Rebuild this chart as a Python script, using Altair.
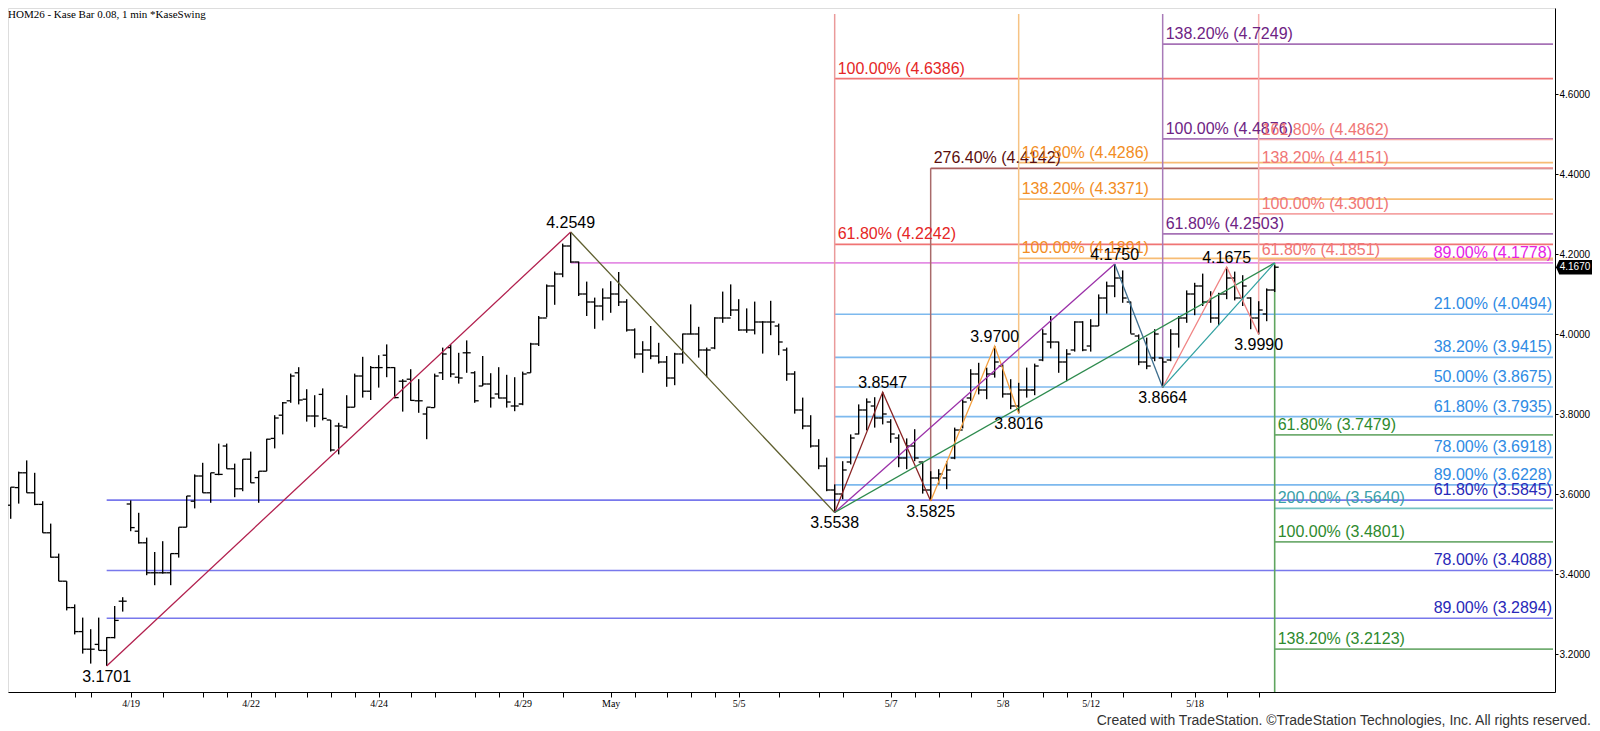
import altair as alt
import pandas as pd

# ---------------- bar data (one entry per Kase bar) ----------------
bar_high = [
    3.570, 3.617, 3.656, 3.684, 3.653, 3.582, 3.526, 3.451, 3.382, 3.324,
    3.291, 3.262, 3.291, 3.242, 3.320, 3.342, 3.584, 3.553, 3.491, 3.455,
    3.482, 3.451, 3.517, 3.595, 3.649, 3.678, 3.653, 3.726, 3.726, 3.676,
    3.687, 3.706, 3.657, 3.738, 3.797, 3.830, 3.901, 3.917, 3.862, 3.847,
    3.864, 3.785, 3.778, 3.847, 3.901, 3.943, 3.920, 3.947, 3.974, 3.917,
    3.887, 3.912, 3.887, 3.816, 3.901, 3.966, 3.974, 3.953, 3.984, 3.907,
    3.945, 3.902, 3.917, 3.898, 3.892, 3.906, 3.978, 4.045, 4.124, 4.156,
    4.226, 4.2549, 4.181, 4.131, 4.091, 4.114, 4.132, 4.155, 4.087, 4.014,
    3.982, 4.020, 3.978, 3.945, 3.953, 4.001, 4.074, 4.018, 3.966, 4.042,
    4.106, 4.124, 4.087, 4.064, 4.081, 4.032, 4.083, 4.026, 3.966, 3.907,
    3.841, 3.797, 3.737, 3.691, 3.624, 3.682, 3.749, 3.824, 3.839, 3.842,
    3.8547, 3.787, 3.749, 3.739, 3.762, 3.681, 3.657, 3.662, 3.682, 3.766,
    3.837, 3.912, 3.928, 3.916, 3.970, 3.924, 3.887, 3.878, 3.916, 3.926,
    4.012, 4.045, 3.981, 3.962, 4.032, 4.032, 4.037, 4.099, 4.131, 4.1750,
    4.159, 4.081, 3.999, 3.991, 4.012, 3.941, 4.012, 4.045, 4.109, 4.128,
    4.151, 4.107, 4.103, 4.1675, 4.156, 4.147, 4.092, 4.082, 4.114, 4.172,
]
bar_low = [
    3.489, 3.538, 3.576, 3.603, 3.572, 3.503, 3.441, 3.382, 3.309, 3.249,
    3.201, 3.176, 3.209, 3.1701, 3.239, 3.306, 3.507, 3.476, 3.397, 3.372,
    3.401, 3.372, 3.441, 3.517, 3.564, 3.603, 3.578, 3.647, 3.663, 3.592,
    3.607, 3.628, 3.578, 3.657, 3.714, 3.749, 3.828, 3.824, 3.781, 3.767,
    3.784, 3.706, 3.699, 3.764, 3.817, 3.841, 3.835, 3.866, 3.892, 3.839,
    3.806, 3.833, 3.803, 3.737, 3.816, 3.885, 3.892, 3.876, 3.903, 3.828,
    3.870, 3.816, 3.839, 3.816, 3.807, 3.822, 3.903, 3.970, 4.042, 4.073,
    4.142, 4.178, 4.095, 4.045, 4.013, 4.034, 4.053, 4.070, 4.006, 3.939,
    3.903, 3.937, 3.926, 3.868, 3.872, 3.926, 3.999, 3.941, 3.892, 3.962,
    4.028, 4.045, 4.008, 4.003, 3.999, 3.951, 3.997, 3.947, 3.883, 3.801,
    3.762, 3.716, 3.662, 3.607, 3.5538, 3.587, 3.674, 3.749, 3.759, 3.766,
    3.774, 3.728, 3.667, 3.662, 3.682, 3.601, 3.5825, 3.624, 3.612, 3.687,
    3.764, 3.833, 3.849, 3.837, 3.891, 3.841, 3.812, 3.8016, 3.841, 3.847,
    3.932, 3.964, 3.903, 3.882, 3.956, 3.957, 3.956, 4.020, 4.051, 4.092,
    4.078, 4.001, 3.922, 3.912, 3.932, 3.8664, 3.932, 3.966, 4.028, 4.047,
    4.070, 4.028, 4.022, 4.087, 4.084, 4.070, 4.012, 3.999, 4.032, 4.105,
]
bar_open = [
    3.532, 3.572, 3.616, 3.653, 3.603, 3.574, 3.503, 3.442, 3.382, 3.316,
    3.256, 3.212, 3.224, 3.209, 3.241, 3.332, 3.575, 3.507, 3.478, 3.403,
    3.403, 3.403, 3.451, 3.517, 3.582, 3.645, 3.603, 3.649, 3.720, 3.663,
    3.613, 3.687, 3.641, 3.657, 3.739, 3.797, 3.833, 3.903, 3.837, 3.795,
    3.849, 3.785, 3.770, 3.767, 3.817, 3.895, 3.857, 3.916, 3.947, 3.916,
    3.882, 3.887, 3.833, 3.800, 3.816, 3.903, 3.966, 3.892, 3.953, 3.903,
    3.870, 3.875, 3.850, 3.840, 3.820, 3.825, 3.903, 3.975, 4.040, 4.120,
    4.150, 4.220, 4.180, 4.100, 4.080, 4.070, 4.090, 4.100, 4.080, 4.010,
    3.950, 3.960, 3.945, 3.930, 3.890, 3.950, 4.000, 4.000, 3.960, 3.965,
    4.040, 4.040, 4.060, 4.010, 4.010, 4.030, 4.030, 4.020, 3.960, 3.900,
    3.810, 3.770, 3.720, 3.670, 3.610, 3.600, 3.680, 3.750, 3.810, 3.820,
    3.790, 3.780, 3.740, 3.690, 3.720, 3.680, 3.610, 3.640, 3.640, 3.690,
    3.760, 3.840, 3.900, 3.860, 3.900, 3.920, 3.850, 3.820, 3.860, 3.860,
    3.935, 3.980, 3.980, 3.930, 3.960, 4.030, 3.970, 4.020, 4.090, 4.120,
    4.140, 4.080, 3.995, 3.930, 3.940, 3.940, 3.935, 4.000, 4.040, 4.100,
    4.120, 4.080, 4.040, 4.100, 4.140, 4.090, 4.090, 4.040, 4.050, 4.110,
]
bar_close = [
    3.566, 3.617, 3.653, 3.603, 3.574, 3.503, 3.442, 3.382, 3.316, 3.256,
    3.212, 3.212, 3.209, 3.241, 3.284, 3.332, 3.516, 3.478, 3.403, 3.403,
    3.403, 3.451, 3.517, 3.595, 3.645, 3.603, 3.653, 3.649, 3.663, 3.613,
    3.687, 3.628, 3.657, 3.737, 3.790, 3.828, 3.895, 3.835, 3.795, 3.795,
    3.789, 3.710, 3.770, 3.817, 3.895, 3.857, 3.916, 3.916, 3.916, 3.841,
    3.882, 3.834, 3.833, 3.817, 3.895, 3.950, 3.900, 3.890, 3.953, 3.833,
    3.875, 3.840, 3.840, 3.830, 3.820, 3.900, 3.975, 4.040, 4.120, 4.150,
    4.220, 4.180, 4.100, 4.080, 4.070, 4.090, 4.100, 4.080, 4.010, 3.950,
    3.960, 3.945, 3.930, 3.890, 3.950, 4.000, 4.000, 3.960, 3.960, 4.040,
    4.040, 4.060, 4.010, 4.010, 4.030, 4.030, 4.030, 3.980, 3.900, 3.810,
    3.770, 3.720, 3.670, 3.610, 3.600, 3.660, 3.740, 3.810, 3.830, 3.790,
    3.800, 3.750, 3.690, 3.720, 3.690, 3.610, 3.640, 3.650, 3.660, 3.760,
    3.830, 3.900, 3.860, 3.900, 3.930, 3.850, 3.820, 3.860, 3.860, 3.920,
    4.000, 3.980, 3.930, 3.950, 4.030, 3.960, 4.020, 4.090, 4.120, 4.140,
    4.090, 4.000, 3.930, 3.920, 4.000, 3.930, 4.000, 4.040, 4.100, 4.120,
    4.080, 4.040, 4.100, 4.140, 4.090, 4.120, 4.040, 4.060, 4.110, 4.167,
]

# ---------------- axis ticks ----------------
date_tick_bars = [9, 11, 16, 20, 25, 28, 31, 34, 38, 41, 44, 47, 51, 54, 59, 62,
                  65, 70, 76, 79, 83, 86, 89, 92, 97, 102, 105, 111, 114, 117,
                  121, 125, 130, 133, 136, 140, 146, 149, 153, 157]
date_label_bars = [16, 31, 47, 65, 76, 92, 111, 125, 136, 149]
date_labels = ["4/19", "4/22", "4/24", "4/29", "May", "5/5", "5/7", "5/8", "5/12", "5/18"]
price_ticks = [3.2, 3.4, 3.6, 3.8, 4.0, 4.2, 4.4, 4.6]

# ---------------- swing points ----------------
swing_bar = [13, 71, 104, 110, 116, 124, 127, 139, 145, 153, 157, 159]
swing_price = [3.1701, 4.2549, 3.5538, 3.8547, 3.5825, 3.9700, 3.8016,
               4.1750, 3.8664, 4.1675, 3.9990, 4.1778]
swing_kind = ["low", "high", "low", "high", "low", "high", "low",
              "high", "low", "high", "low", "none"]

# ---------------- Fibonacci sets ----------------
blue_pct = ["61.80%", "78.00%", "89.00%"]
blue_val = [3.5845, 3.4088, 3.2894]
lblue_pct = ["21.00%", "38.20%", "50.00%", "61.80%", "78.00%", "89.00%"]
lblue_val = [4.0494, 3.9415, 3.8675, 3.7935, 3.6918, 3.6228]
mag_pct = ["89.00%"]
mag_val = [4.1778]
red_pct = ["100.00%", "61.80%"]
red_val = [4.6386, 4.2242]
maroon_pct = ["276.40%"]
maroon_val = [4.4142]
orange_pct = ["161.80%", "138.20%", "100.00%"]
orange_val = [4.4286, 4.3371, 4.1891]
purple_pct = ["138.20%", "100.00%", "61.80%"]
purple_val = [4.7249, 4.4876, 4.2503]
salmon_pct = ["161.80%", "138.20%", "100.00%", "61.80%"]
salmon_val = [4.4862, 4.4151, 4.3001, 4.1851]
green_pct = ["61.80%", "100.00%", "138.20%"]
green_val = [3.7479, 3.4801, 3.2123]
teal_pct = ["200.00%"]
teal_val = [3.5640]

title_text = "HOM26 - Kase Bar 0.08, 1 min  *KaseSwing"
credit_text = "Created with TradeStation. \u00a9TradeStation Technologies, Inc. All rights reserved."

# ---------------- layout ----------------
W, H = 1547, 684
xs = alt.Scale(domain=[0.666, 194.04], nice=False, zero=False)
ys = alt.Scale(domain=[3.105, 4.815], nice=False, zero=False)

label_expr = ""
for b, t in zip(date_label_bars, date_labels):
    label_expr += f"datum.value == {b} ? '{t}' : "
label_expr += "''"

x_axis = alt.Axis(values=date_tick_bars, labelExpr=label_expr, title=None, grid=False,
                  orient="bottom", tickSize=5, tickColor="black", tickWidth=1,
                  domainColor="black", domainWidth=1, labelFont="Liberation Serif",
                  labelFontSize=10, labelColor="black", labelPadding=1, labelAngle=0,
                  labelOverlap=False, labelFlush=False)
y_axis = alt.Axis(values=price_ticks, format=".4f", orient="right", title=None, grid=False,
                  tickSize=3, tickColor="black", tickWidth=1, domainColor="black",
                  domainWidth=1, labelFont="Liberation Sans", labelFontSize=10,
                  labelColor="black", labelPadding=1, labelFlush=False, labelOverlap=False)


def X(f):
    return alt.X(f, type="quantitative", scale=xs, axis=x_axis)


def Y(f):
    return alt.Y(f, type="quantitative", scale=ys, axis=y_axis)


FONT = "Liberation Sans"
layers = []

bars = pd.DataFrame({"bar": list(range(len(bar_high))), "high": bar_high, "low": bar_low,
                     "open": bar_open, "close": bar_close})
sw = pd.DataFrame({"bar": swing_bar, "price": swing_price, "kind": swing_kind})
sw["text"] = [f"{p:.4f}" for p in swing_price]


def sp(bar):
    return swing_price[swing_bar.index(bar)]


def fib_df(pcts, vals, start):
    return pd.DataFrame({"start": [start] * len(vals), "value": vals,
                         "text": [f"{p} ({v:.4f})" for p, v in zip(pcts, vals)]})


# (pcts, vals, start bar, line colour, text colour, label side)
fib_sets = [
    (blue_pct, blue_val, 13, "#7878EC", "#2828B8", "right"),
    (lblue_pct, lblue_val, 104, "#7DB9EE", "#2F8BE4", "right"),
    (mag_pct, mag_val, 71, "#E48EE4", "#E522E5", "right"),
    (red_pct, red_val, 104, "#F07474", "#E52626", "left"),
    (maroon_pct, maroon_val, 116, "#A85E5E", "#5A0E0E", "left"),
    (orange_pct, orange_val, 127, "#F7BC74", "#F28D24", "left"),
    (purple_pct, purple_val, 145, "#A672B6", "#6E2384", "left"),
    (salmon_pct, salmon_val, 157, "#F5A4A4", "#F07676", "left"),
    (green_pct, green_val, 159, "#72AD72", "#2E8A2E", "left"),
    (teal_pct, teal_val, 159, "#74C2C2", "#3A9FA8", "left"),
]

# horizontal fib lines
for pcts, vals, start, lc, tc, side in fib_sets:
    df = fib_df(pcts, vals, start)
    layers.append(alt.Chart(df).mark_rule(color=lc, strokeWidth=1.7).encode(
        x=X("start"), x2=alt.value(W - 2), y=Y("value")))

# vertical anchor lines
vert_up = pd.DataFrame({"bar": [104, 127, 145, 157],
                        "price": [sp(104), sp(127), sp(145), sp(157)]})
vcols = ["#EA9A9A", "#F6C384", "#A87AB8", "#F5AEAE"]
for i, c in enumerate(vcols):
    layers.append(alt.Chart(vert_up.iloc[[i]]).mark_rule(color=c, strokeWidth=1.5).encode(
        x=X("bar"), y=Y("price"), y2=alt.value(6)))
maroon_v = pd.DataFrame({"bar": [116], "price": [sp(116)], "top": [maroon_val[0]]})
layers.append(alt.Chart(maroon_v).mark_rule(color="#A86A6A", strokeWidth=1.5).encode(
    x=X("bar"), y=Y("price"), y2="top"))
green_v = pd.DataFrame({"bar": [159], "price": [sp(159)]})
layers.append(alt.Chart(green_v).mark_rule(color="#5FA55F", strokeWidth=1.6).encode(
    x=X("bar"), y=Y("price"), y2=alt.value(H)))

# OHLC bars
layers.append(alt.Chart(bars).mark_rule(color="black", strokeWidth=1.4).encode(
    x=X("bar"), y=Y("low"), y2="high"))
layers.append(alt.Chart(bars).mark_tick(orient="horizontal", color="black", size=4,
                                        thickness=1.3, xOffset=-2, opacity=1).encode(
    x=X("bar"), y=Y("open")))
layers.append(alt.Chart(bars).mark_tick(orient="horizontal", color="black", size=4,
                                        thickness=1.3, xOffset=2, opacity=1).encode(
    x=X("bar"), y=Y("close")))

# swing lines
swing_paths = [
    ([13, 71], "#B2204E"),
    ([71, 104], "#5E5E2E"),
    ([104, 110, 116], "#8B2525"),
    ([116, 124, 127], "#F4A040"),
    ([104, 139], "#9B30A8"),
    ([104, 159], "#2E8B4E"),
    ([139, 145], "#3E6E8E"),
    ([145, 153, 157], "#F08484"),
    ([145, 159], "#30A0A0"),
]
for path, c in swing_paths:
    df = pd.DataFrame({"bar": path, "price": [sp(b) for b in path]})
    layers.append(alt.Chart(df).mark_line(color=c, strokeWidth=1.3).encode(
        x=X("bar"), y=Y("price")))

# fib labels
for pcts, vals, start, lc, tc, side in fib_sets:
    df = fib_df(pcts, vals, start)
    if side == "left":
        layers.append(alt.Chart(df).mark_text(align="left", baseline="alphabetic", dx=3, dy=-5,
                                              color=tc, font=FONT, fontSize=16).encode(
            x=X("start"), y=Y("value"), text="text"))
    else:
        layers.append(alt.Chart(df).mark_text(align="right", baseline="alphabetic", dy=-5,
                                              color=tc, font=FONT, fontSize=16).encode(
            x=alt.value(W - 3), y=Y("value"), text="text"))

# swing labels
layers.append(alt.Chart(sw[sw.kind == "high"]).mark_text(
    align="center", baseline="alphabetic", dy=-4, color="black", font=FONT, fontSize=16).encode(
    x=X("bar"), y=Y("price"), text="text"))
layers.append(alt.Chart(sw[sw.kind == "low"]).mark_text(
    align="center", baseline="alphabetic", dy=16, color="black", font=FONT, fontSize=16).encode(
    x=X("bar"), y=Y("price"), text="text"))

# last price marker
last = pd.DataFrame({"price": [bar_close[-1]], "text": [f"{bar_close[-1]:.4f}"]})
layers.append(alt.Chart(last).mark_point(
    shape="M-1,0L-0.82,-0.4L1,-0.4L1,0.4L-0.82,0.4Z", size=1296, filled=True,
    color="black", opacity=1, strokeWidth=0).encode(x=alt.value(W + 19), y=Y("price")))
layers.append(alt.Chart(last).mark_text(align="center", baseline="middle", color="white",
                                        font=FONT, fontSize=10).encode(
    x=alt.value(W + 20), y=Y("price"), text="text"))

# title and credit
layers.append(alt.Chart(pd.DataFrame({"t": [title_text]})).mark_text(
    align="left", baseline="top", font="Liberation Serif", fontSize=11, color="black").encode(
    x=alt.value(0), y=alt.value(1), text="t"))
layers.append(alt.Chart(pd.DataFrame({"t": [credit_text]})).mark_text(
    align="right", baseline="middle", font=FONT, fontSize=14, color="#333333").encode(
    x=alt.value(W + 36), y=alt.value(H + 29), text="t"))

chart = alt.layer(*layers).properties(
    width=W, height=H,
    padding={"left": 0, "top": 0, "right": 37, "bottom": 39},
    autosize=alt.AutoSizeParams(type="none"),
).configure_view(strokeOpacity=0).configure(background="white")

chart.save("out.html", embed_options={"renderer": "svg", "actions": False})
